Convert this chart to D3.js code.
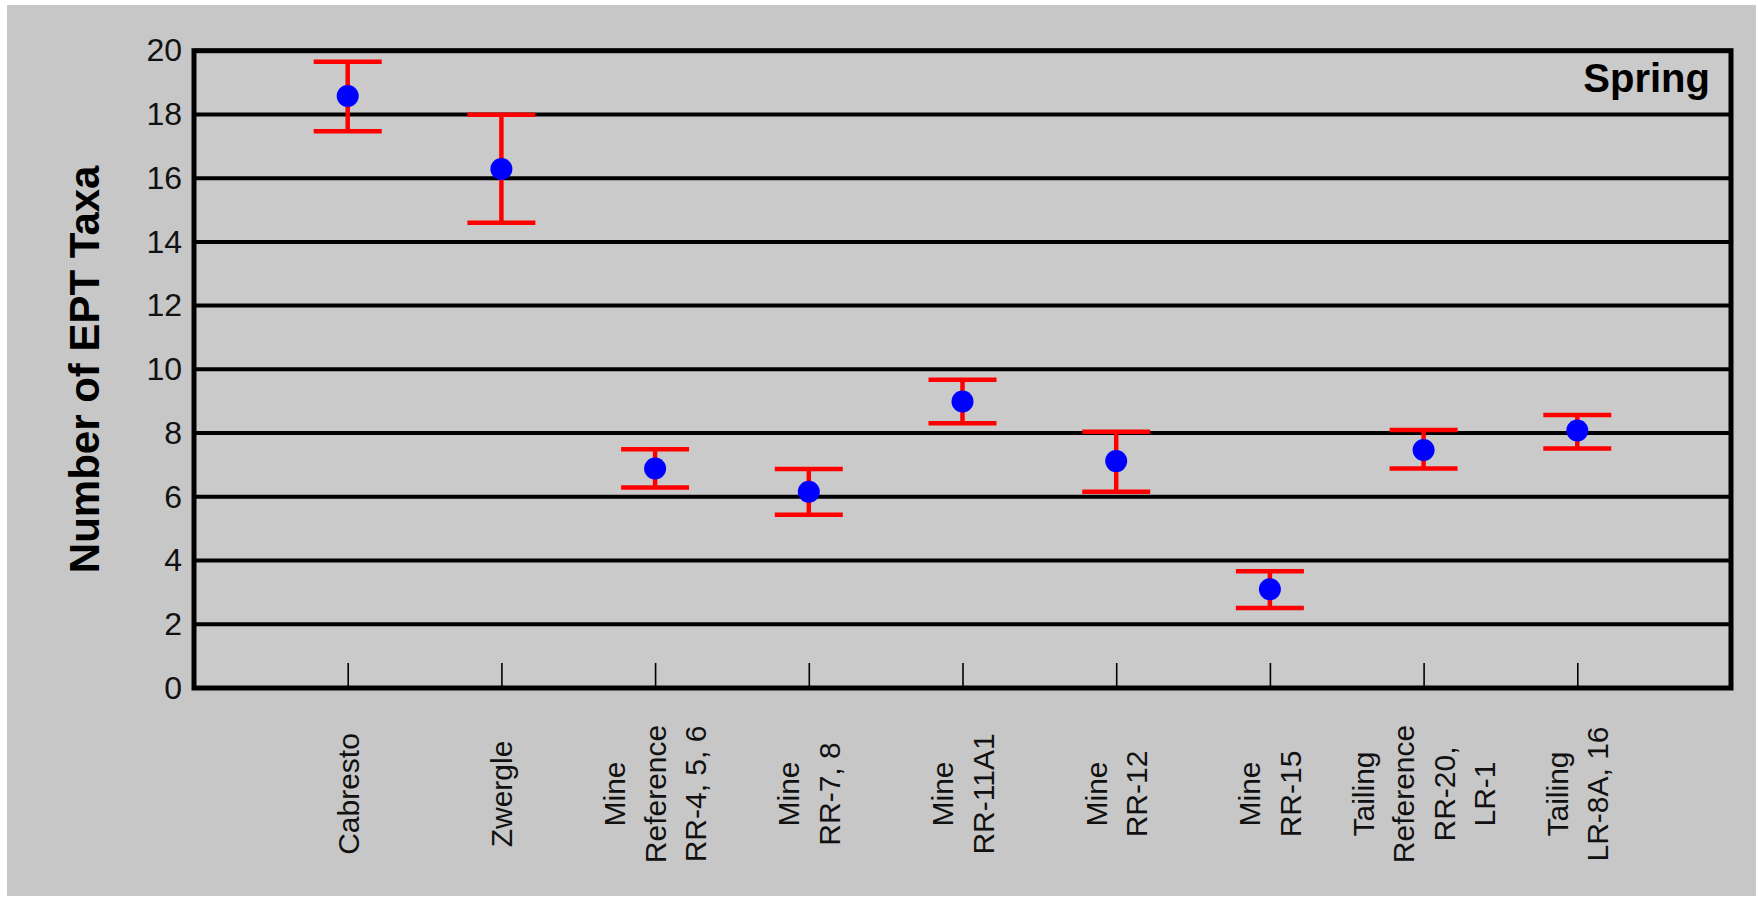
<!DOCTYPE html>
<html>
<head>
<meta charset="utf-8">
<script src="https://cdn.jsdelivr.net/npm/d3@7"></script>
<style>
  html, body { margin: 0; padding: 0; background: #ffffff; }
  svg { display: block; }
  text { font-family: "Liberation Sans", Arial, Helvetica, sans-serif; }
</style>
</head>
<body>
<svg id="chart" width="1758" height="900"></svg>
<script>
// ---- Data ----
const categoryLabels = [
  ["Cabresto"],
  ["Zwergle"],
  ["Mine", "Reference", "RR-4, 5, 6"],
  ["Mine", "RR-7, 8"],
  ["Mine", "RR-11A1"],
  ["Mine", "RR-12"],
  ["Mine", "RR-15"],
  ["Tailing", "Reference", "RR-20,", "LR-1"],
  ["Tailing", "LR-8A, 16"]
];
const categories = categoryLabels.map(d => d.join(" "));
const means = [18.58, 16.29, 6.89, 6.16, 8.99, 7.12, 3.10, 7.47, 8.08];
const upper = [19.65, 17.99, 7.49, 6.87, 9.67, 8.04, 3.66, 8.10, 8.57];
const lower = [17.47, 14.60, 6.29, 5.44, 8.31, 6.16, 2.51, 6.89, 7.52];
const yTicks = [0, 2, 4, 6, 8, 10, 12, 14, 16, 18, 20];
const yTitle = "Number of EPT Taxa";
const panelTitle = "Spring";

// ---- Layout ----
const W = 1758, H = 900;
const plot = { left: 194, right: 1731, top: 50.7, bottom: 688 };

const svg = d3.select("#chart");

// outer gray panel
svg.append("rect")
  .attr("x", 7).attr("y", 5).attr("width", 1749).attr("height", 891)
  .attr("fill", "#c7c7c7");
// plot area
svg.append("rect")
  .attr("x", plot.left).attr("y", plot.top)
  .attr("width", plot.right - plot.left).attr("height", plot.bottom - plot.top)
  .attr("fill", "#cacaca");

const x = d3.scalePoint().domain(categories).range([plot.left, plot.right]).padding(1);
const y = d3.scaleLinear().domain([0, 20]).range([plot.bottom, plot.top]);

// gridlines
svg.append("g").selectAll("line").data(yTicks).join("line")
  .attr("x1", plot.left).attr("x2", plot.right)
  .attr("y1", d => y(d)).attr("y2", d => y(d))
  .attr("stroke", "#000").attr("stroke-width", 4);

// frame
svg.append("rect")
  .attr("x", plot.left).attr("y", plot.top)
  .attr("width", plot.right - plot.left).attr("height", plot.bottom - plot.top)
  .attr("fill", "none").attr("stroke", "#000").attr("stroke-width", 5);

// y axis labels
const yAxis = d3.axisLeft(y).tickValues(yTicks).tickSize(0).tickPadding(12).tickFormat(d3.format("d"));
const gy = svg.append("g").attr("transform", `translate(${plot.left},0)`).call(yAxis);
gy.select(".domain").remove();
gy.selectAll("text")
  .attr("font-size", 32).attr("fill", "#111")
  .style("font-family", '"Liberation Sans", Arial, sans-serif');

// x axis ticks (inside, pointing up)
const xAxis = d3.axisBottom(x).tickSize(-25).tickFormat("");
const gx = svg.append("g").attr("transform", `translate(0,${plot.bottom})`).call(xAxis);
gx.select(".domain").remove();
gx.selectAll(".tick line").attr("stroke", "#000").attr("stroke-width", 1.6);

// x category labels (rotated, multi-line)
const lineGap = 40.5;
const lab = svg.append("g").selectAll("g").data(categoryLabels).join("g")
  .attr("transform", (d, i) => `translate(${x(categories[i])},794) rotate(-90)`);
lab.each(function(lines) {
  const g = d3.select(this);
  const n = lines.length;
  g.selectAll("text").data(lines).join("text")
    .attr("x", 0)
    .attr("y", (l, j) => (j - (n - 1) / 2) * lineGap)
    .attr("dy", "0.36em")
    .attr("text-anchor", "middle")
    .attr("font-size", 30)
    .attr("fill", "#111")
    .text(l => l);
});

// error bars
const capW = 68;
const eb = svg.append("g").attr("stroke", "#ff0000").attr("stroke-width", 4.5);
eb.selectAll("line.stem").data(categories).join("line").attr("class", "stem")
  .attr("x1", d => x(d)).attr("x2", d => x(d))
  .attr("y1", (d, i) => y(upper[i])).attr("y2", (d, i) => y(lower[i]));
eb.selectAll("line.capT").data(categories).join("line").attr("class", "capT")
  .attr("x1", d => x(d) - capW / 2).attr("x2", d => x(d) + capW / 2)
  .attr("y1", (d, i) => y(upper[i])).attr("y2", (d, i) => y(upper[i]));
eb.selectAll("line.capB").data(categories).join("line").attr("class", "capB")
  .attr("x1", d => x(d) - capW / 2).attr("x2", d => x(d) + capW / 2)
  .attr("y1", (d, i) => y(lower[i])).attr("y2", (d, i) => y(lower[i]));

// mean points
svg.append("g").selectAll("circle").data(categories).join("circle")
  .attr("cx", d => x(d)).attr("cy", (d, i) => y(means[i]))
  .attr("r", 11).attr("fill", "#0000ff");

// panel title
svg.append("text")
  .attr("x", 1710).attr("y", 92)
  .attr("text-anchor", "end")
  .attr("font-size", 40).attr("font-weight", "bold").attr("fill", "#000")
  .text(panelTitle);

// y axis title
svg.append("text")
  .attr("transform", `translate(99,${(plot.top + plot.bottom) / 2}) rotate(-90)`)
  .attr("text-anchor", "middle")
  .attr("font-size", 42).attr("font-weight", "bold").attr("fill", "#000")
  .text(yTitle);
</script>
</body>
</html>
